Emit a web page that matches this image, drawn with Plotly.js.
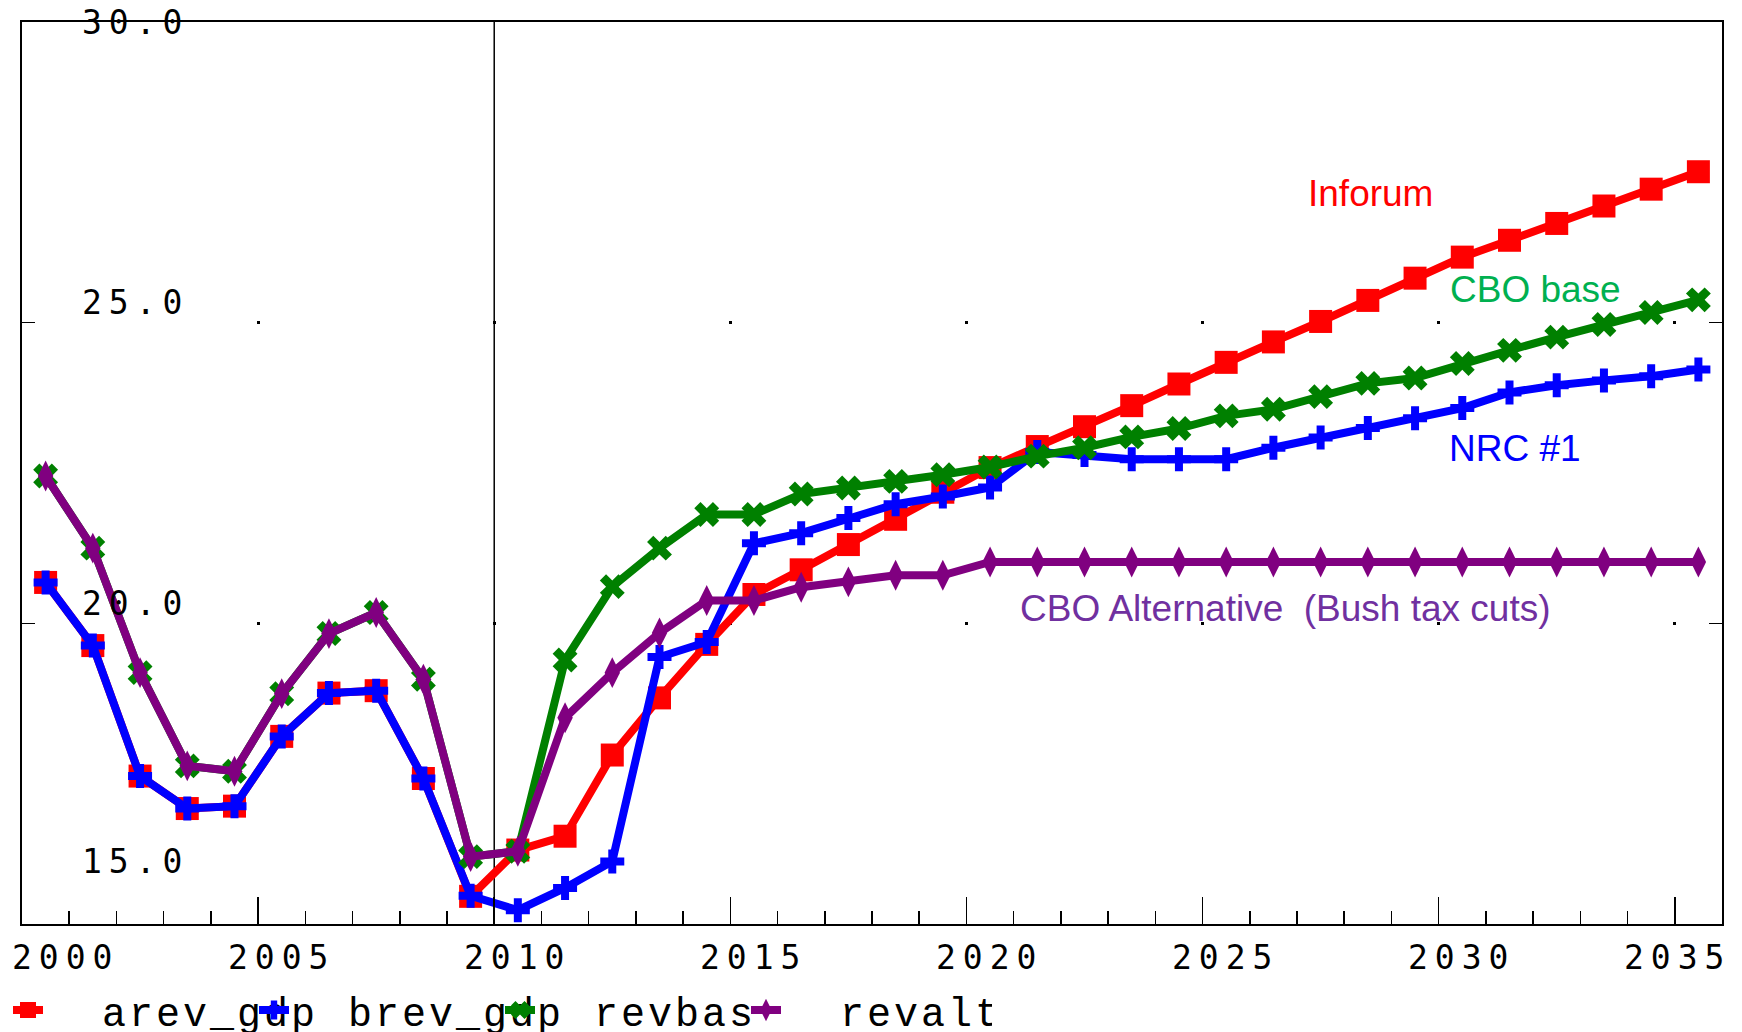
<!DOCTYPE html>
<html>
<head>
<meta charset="utf-8">
<script src="https://cdn.plot.ly/plotly-3.0.1.min.js"></script>
<style>
html, body { margin: 0; padding: 0; background: #ffffff; }
#chart { width: 1742px; height: 1032px; }
text[style*="DejaVu Sans Mono"] { letter-spacing: 7px; }
text[style*="Liberation Mono"] { letter-spacing: 3px; }
</style>
</head>
<body>
<div id="chart"></div>
<script>
// ---- data (annual values, % of GDP) ----
const years = [2000, 2001, 2002, 2003, 2004, 2005, 2006, 2007, 2008, 2009,
               2010, 2011, 2012, 2013, 2014, 2015, 2016, 2017, 2018, 2019,
               2020, 2021, 2022, 2023, 2024, 2025, 2026, 2027, 2028, 2029,
               2030, 2031, 2032, 2033, 2034, 2035];

// Inforum
const arevGdp = [20.68, 19.63, 17.46, 16.92, 16.96, 18.12, 18.84, 18.88, 17.42, 15.46,
                 16.23, 16.46, 17.81, 18.76, 19.65, 20.48, 20.89, 21.31, 21.73, 22.18,
                 22.59, 22.94, 23.27, 23.62, 23.98, 24.34, 24.68, 25.02, 25.37, 25.74,
                 26.09, 26.37, 26.65, 26.94, 27.22, 27.51];
// NRC #1
const brevGdp = [20.68, 19.63, 17.46, 16.92, 16.96, 18.12, 18.84, 18.88, 17.42, 15.47,
                 15.23, 15.60, 16.04, 19.44, 19.69, 21.33, 21.50, 21.75, 21.98, 22.11,
                 22.26, 22.85, 22.80, 22.73, 22.73, 22.73, 22.92, 23.09, 23.25, 23.41,
                 23.58, 23.84, 23.96, 24.04, 24.11, 24.22];
// CBO base
const revbas = [22.45, 21.25, 19.18, 17.63, 17.54, 18.83, 19.83, 20.18, 19.07, 16.12,
                16.21, 19.39, 20.61, 21.25, 21.81, 21.81, 22.15, 22.25, 22.36, 22.47,
                22.60, 22.78, 22.92, 23.10, 23.24, 23.45, 23.56, 23.77, 23.99, 24.08,
                24.32, 24.54, 24.76, 24.97, 25.17, 25.38];
// CBO Alternative (Bush tax cuts)
const revalt = [22.45, 21.25, 19.18, 17.63, 17.54, 18.83, 19.83, 20.18, 19.07, 16.12,
                16.21, 18.43, 19.18, 19.84, 20.38, 20.38, 20.60, 20.69, 20.80, 20.80,
                21.02, 21.02, 21.02, 21.02, 21.02, 21.02, 21.02, 21.02, 21.02, 21.02,
                21.02, 21.02, 21.02, 21.02, 21.02, 21.02];

const seriesNames = ['arev_gdp', 'brev_gdp', 'revbas', 'revalt'];
const xTickYears = [2000, 2005, 2010, 2015, 2020, 2025, 2030, 2035];
const yTickValues = [15, 20, 25, 30];
const seriesLabels = ['Inforum', 'CBO base', 'NRC #1', 'CBO Alternative\u00a0 (Bush tax cuts)'];
const seriesLabelPos = [[2028.55, 27.15], [2032.05, 25.55], [2031.62, 22.90], [2026.75, 20.24]];

// ---- styling ----
const lineColors = ['#ff0000', '#0000ff', '#008000', '#800080'];
const labelColors = ['#ff0000', '#00b050', '#0000ff', '#7030a0'];
const symbols = ['square', 'cross', 'x', 'diamond-tall'];
const sizes = [23, 20, 22, 22];
const seriesValues = [arevGdp, brevGdp, revbas, revalt];

// annual values plotted at mid-year
const xMid = years.map(y => y + 0.5);

const traces = seriesValues.map((vals, i) => ({
  type: 'scatter',
  mode: 'lines+markers',
  x: xMid,
  y: vals,
  name: '\u00a0\u00a0' + seriesNames[i],
  line: { color: lineColors[i], width: 8 },
  marker: { symbol: symbols[i], size: sizes[i], color: lineColors[i], line: { width: 0 } },
  cliponaxis: false,
  hoverinfo: 'x+y+name'
}));

const monoFont = { family: 'DejaVu Sans Mono', size: 33, color: '#000000' };

const annotations = [];
// x tick labels
xTickYears.forEach((yr, i) => {
  let xanchor = 'center', xshift = 23;
  if (i === 0) { xanchor = 'left'; xshift = -12; }
  else if (i === xTickYears.length - 1) { xshift = 3; }
  annotations.push({
    xref: 'x', yref: 'paper', x: yr, y: 0, xanchor: xanchor, yanchor: 'middle',
    xshift: xshift, yshift: -33, text: String(yr), showarrow: false, font: monoFont
  });
});
// y tick labels
const yShiftFor = { 15: 63, 20: 20, 25: 20, 30: 0 };
yTickValues.forEach(v => {
  annotations.push({
    xref: 'paper', yref: 'y', x: 0, y: v, xanchor: 'left', yanchor: 'middle',
    xshift: 58, yshift: yShiftFor[v], text: v.toFixed(1), showarrow: false, font: monoFont
  });
});
// series labels
seriesLabels.forEach((t, i) => {
  annotations.push({
    xref: 'x', yref: 'y', x: seriesLabelPos[i][0], y: seriesLabelPos[i][1],
    xanchor: 'center', yanchor: 'middle', text: t, showarrow: false,
    font: { family: 'Liberation Sans', size: 37, color: labelColors[i] }
  });
});

const layout = {
  width: 1742, height: 1032,
  margin: { l: 22, r: 20, t: 22, b: 108, pad: 0, autoexpand: false },
  paper_bgcolor: '#ffffff', plot_bgcolor: '#ffffff',
  font: monoFont,
  showlegend: true,
  xaxis: {
    range: [2000, 2036], tickmode: 'linear', tick0: 2000, dtick: 5,
    ticks: 'inside', ticklen: 27, tickwidth: 1.5, tickcolor: '#000000',
    showticklabels: false, showline: true, linecolor: '#000000', linewidth: 2, mirror: true,
    showgrid: true, gridcolor: '#000000', gridwidth: 3,
    griddash: '0px,299px,3px,298px,3px,1000px',
    zeroline: false, fixedrange: true,
    minor: { dtick: 1, ticks: 'inside', ticklen: 13, tickwidth: 1.5, tickcolor: '#000000', showgrid: false }
  },
  yaxis: {
    range: [15, 30], tickmode: 'array', tickvals: yTickValues,
    ticks: 'inside', ticklen: 13, tickwidth: 1.5, tickcolor: '#000000',
    showticklabels: false, showline: true, linecolor: '#000000', linewidth: 2, mirror: 'ticks',
    showgrid: false, zeroline: false, fixedrange: true
  },
  shapes: [{
    type: 'line', xref: 'x', yref: 'paper', x0: 2010, x1: 2010, y0: 0, y1: 1,
    line: { color: '#000000', width: 1.5 }, layer: 'below'
  }],
  legend: {
    orientation: 'h', xref: 'container', yref: 'container',
    x: 8 / 1742, xanchor: 'left', y: 1 - 1010 / 1032, yanchor: 'middle',
    entrywidth: 201, entrywidthmode: 'pixels', itemwidth: 30,
    font: { family: 'Liberation Mono', size: 40, color: '#000000' },
    bgcolor: 'rgba(0,0,0,0)', borderwidth: 0, traceorder: 'normal'
  },
  annotations: annotations
};

Plotly.newPlot('chart', traces, layout, { displayModeBar: false, staticPlot: true });
</script>
</body>
</html>
